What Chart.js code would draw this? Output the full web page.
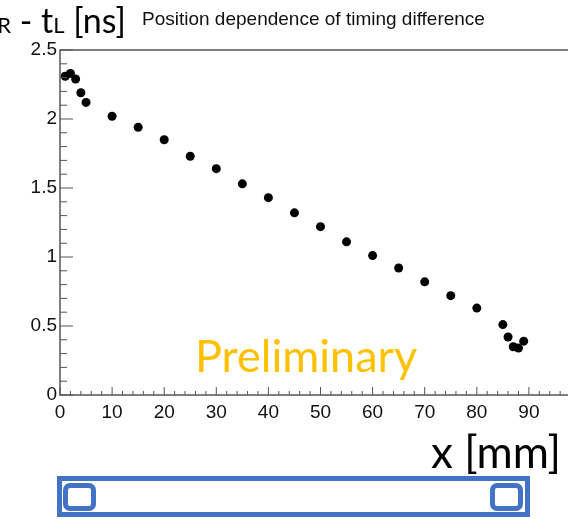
<!DOCTYPE html>
<html>
<head>
<meta charset="utf-8">
<script src="https://cdn.jsdelivr.net/npm/chart.js@4"></script>
<style>
  html, body { margin: 0; padding: 0; background: #fff; overflow: hidden; width: 568px; height: 519px; }
  #wrap { position: absolute; left: 0; top: 0; width: 600px; height: 519px; }
  .txt { position: absolute; white-space: nowrap; }
  #ytitle { left: -15px; top: 3px; font: 34px Lato, sans-serif; line-height: 34px; color: #000; }
  #ytitle small { font-size: 22px; }
  #title { left: 142px; top: 9px; font: 19px "Liberation Sans", Arial, sans-serif; line-height: 19px; color: #111; }
  #prelim { left: 195px; top: 333px; font: 45px Lato, sans-serif; line-height: 45px; color: #FFC000; }
  #xtitle { left: 431px; top: 429px; font: 44px Lato, sans-serif; line-height: 44px; color: #000; }
  #bar { position: absolute; left: 57px; top: 476px; width: 473px; height: 41px; box-sizing: border-box;
         border: 5px solid #4472C4; background: #fff; }
  .knob { position: absolute; top: 483px; width: 33px; height: 28px; box-sizing: border-box;
          border: 5px solid #4472C4; border-radius: 7px; background: #fff; }
</style>
</head>
<body>
<div id="wrap"><canvas id="chart" width="600" height="519"></canvas></div>
<div class="txt" id="ytitle">t<small>R</small> - t<small>L</small> [ns]</div>
<div class="txt" id="title">Position dependence of timing difference</div>
<div class="txt" id="prelim">Preliminary</div>
<div class="txt" id="xtitle">x [mm]</div>
<div id="bar"></div>
<div class="knob" style="left:63px"></div>
<div class="knob" style="left:490px"></div>
<script>
// position along the bar [mm] and measured tR - tL [ns]
const positions = [1, 2, 3, 4, 5, 10, 15, 20, 25, 30, 35, 40, 45, 50, 55, 60, 65, 70, 75, 80, 85, 86, 87, 88, 89];
const timeDiff = [2.31, 2.33, 2.29, 2.19, 2.12, 2.02, 1.94, 1.85, 1.73, 1.64, 1.53, 1.43, 1.32, 1.22, 1.11, 1.01,
                  0.92, 0.82, 0.72, 0.63, 0.51, 0.42, 0.35, 0.34, 0.39];

const xMin = 0, xMax = 100, xStep = 10;
const yMin = 0, yMax = 2.5, yStep = 0.5;

const tickFont = { family: '"Liberation Sans", Arial, sans-serif', size: 19 };

// ROOT style frame: ticks drawn inside the frame
const rootFrame = {
  id: 'rootFrame',
  afterDraw(chart) {
    const { ctx, chartArea: a, scales: { x, y } } = chart;
    ctx.save();
    ctx.strokeStyle = '#555';
    ctx.lineWidth = 1.5;
    ctx.beginPath();
    ctx.moveTo(a.right, a.top);
    ctx.lineTo(a.left, a.top);
    ctx.lineTo(a.left, a.bottom);
    ctx.lineTo(a.right, a.bottom);
    ctx.stroke();

    ctx.lineWidth = 1;
    ctx.beginPath();
    for (let v = xMin; v <= xMax; v += 2) {
      const px = x.getPixelForValue(v);
      const len = v % 10 === 0 ? 8 : 4;
      ctx.moveTo(px, a.bottom);
      ctx.lineTo(px, a.bottom - len);
    }
    for (let i = 0; i <= 25; i++) {
      const py = y.getPixelForValue(i / 10);
      const len = i % 5 === 0 ? 13 : 7;
      ctx.moveTo(a.left, py);
      ctx.lineTo(a.left + len, py);
    }
    ctx.stroke();
    ctx.restore();
  }
};

new Chart(document.getElementById('chart'), {
  type: 'scatter',
  data: {
    datasets: [{
      data: positions.map((p, i) => ({ x: p, y: timeDiff[i] })),
      backgroundColor: '#000',
      borderWidth: 0,
      pointRadius: 4.5
    }]
  },
  options: {
    responsive: false,
    animation: false,
    layout: { padding: { top: 50, right: 19, left: 0, bottom: 0 } },
    plugins: {
      legend: { display: false },
      tooltip: { enabled: false }
    },
    scales: {
      x: {
        type: 'linear',
        min: xMin,
        max: xMax,
        grid: { display: false, drawTicks: false },
        border: { display: false },
        ticks: {
          stepSize: xStep,
          autoSkip: false,
          maxRotation: 0,
          padding: 6,
          color: '#111',
          font: tickFont,
          callback: v => (v === xMax ? '' : String(v))
        },
        afterFit: s => { s.height = 124; }
      },
      y: {
        min: yMin,
        max: yMax,
        grid: { display: false, drawTicks: false },
        border: { display: false },
        ticks: {
          stepSize: yStep,
          padding: 3,
          color: '#111',
          font: tickFont,
          callback: v => String(Math.round(v * 10) / 10)
        },
        afterFit: s => { s.width = 60; }
      }
    }
  },
  plugins: [rootFrame]
});
</script>
</body>
</html>
